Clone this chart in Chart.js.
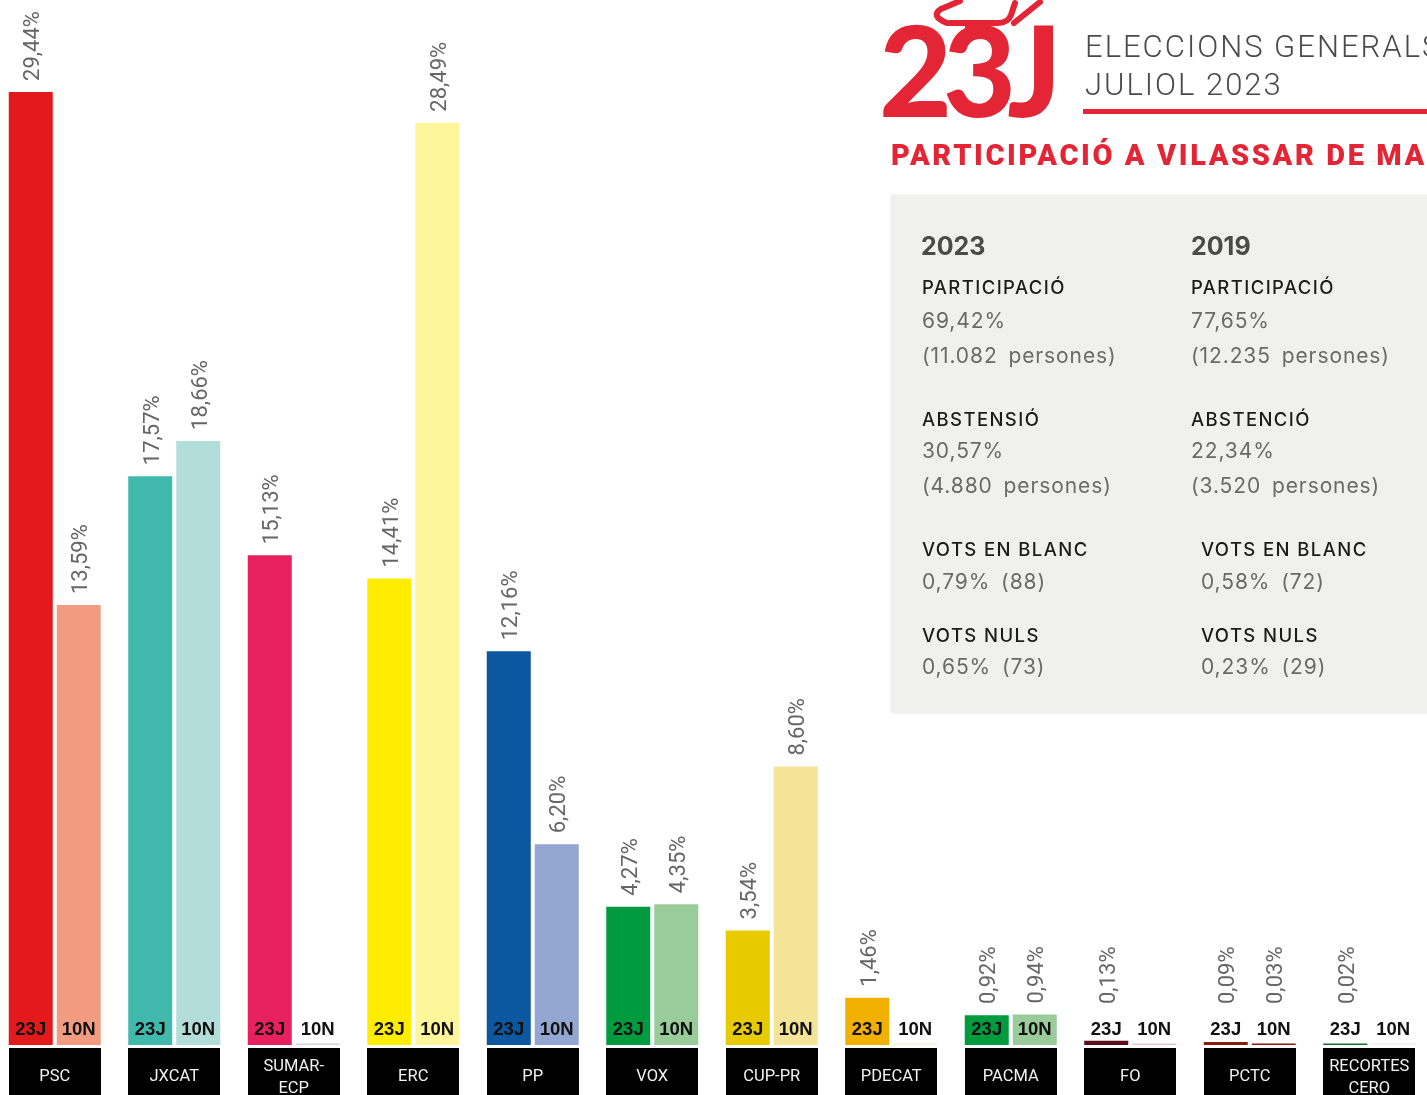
<!DOCTYPE html>
<html><head><meta charset="utf-8">
<script src="https://cdn.jsdelivr.net/npm/chart.js@4.4.0/dist/chart.umd.min.js"></script>
<style>
html,body{margin:0;padding:0;background:#fff;}
body{width:1427px;height:1095px;overflow:hidden;position:relative;font-family:Inter, Roboto, sans-serif;}
#wrap{position:absolute;left:-5px;top:0;width:1434px;height:1095px;}
.t{position:absolute;white-space:nowrap;line-height:30px;height:30px;}
.hd{font-family:Roboto, sans-serif;font-weight:300;font-size:31px;color:#4a4a4a;letter-spacing:2px;}
.sub{font-family:Roboto, sans-serif;font-weight:900;font-size:29px;color:#E42535;letter-spacing:2.6px;}
#panel{position:absolute;left:891px;top:195px;width:560px;height:518px;background:#f0f0ef;box-shadow:0 0 2px rgba(0,0,0,0.12);}
.yr{font-weight:700;font-size:25px;color:#4a4a4a;}
.lb{font-weight:500;font-size:18.5px;color:#1c1c1c;letter-spacing:1.4px;}
.vl{font-weight:400;font-size:21px;color:#6a6a6a;letter-spacing:0.9px;word-spacing:4px;}
</style></head>
<body>
<div id="wrap"><canvas id="c"></canvas></div>

<svg style="position:absolute;left:0;top:0" width="1427" height="130">
  <g fill="none" stroke="#E42535" stroke-width="6" stroke-linecap="round" stroke-linejoin="round">
    <path d="M947,23 Q930,16 941,9 L960,1"/>
    <path d="M950,23 L998,23 Q1008,23 1011,15 L1015,3"/>
    <path d="M1014,23 L1040,2"/>
    <path d="M968,23 L968,28"/>
  </g>
  <text x="879" y="117" font-family="Lato, sans-serif" font-weight="900" font-size="126" letter-spacing="-9" fill="#E42535">23J</text>
</svg>

<div class="t hd" style="left:1085px;top:32px;">ELECCIONS GENERALS</div>
<div class="t hd" style="left:1085px;top:70px;">JULIOL 2023</div>
<div style="position:absolute;left:1083px;top:109px;width:400px;height:5px;background:#E42535;"></div>
<div class="t sub" style="left:891px;top:140px;">PARTICIPACIÓ A VILASSAR DE MAR</div>

<div id="panel"></div>
<div class="t yr" style="left:921px;top:231px;">2023</div>
<div class="t lb" style="left:922px;top:272px;">PARTICIPACIÓ</div>
<div class="t vl" style="left:922px;top:306px;">69,42%</div>
<div class="t vl" style="left:922px;top:341px;">(11.082 persones)</div>
<div class="t lb" style="left:922px;top:404px;">ABSTENSIÓ</div>
<div class="t vl" style="left:922px;top:436px;">30,57%</div>
<div class="t vl" style="left:922px;top:471px;">(4.880 persones)</div>
<div class="t lb" style="left:922px;top:534px;">VOTS EN BLANC</div>
<div class="t vl" style="left:922px;top:567px;">0,79% (88)</div>
<div class="t lb" style="left:922px;top:620px;">VOTS NULS</div>
<div class="t vl" style="left:922px;top:652px;">0,65% (73)</div>

<div class="t yr" style="left:1191px;top:231px;">2019</div>
<div class="t lb" style="left:1191px;top:272px;">PARTICIPACIÓ</div>
<div class="t vl" style="left:1191px;top:306px;">77,65%</div>
<div class="t vl" style="left:1191px;top:341px;">(12.235 persones)</div>
<div class="t lb" style="left:1191px;top:404px;">ABSTENCIÓ</div>
<div class="t vl" style="left:1191px;top:436px;">22,34%</div>
<div class="t vl" style="left:1191px;top:471px;">(3.520 persones)</div>
<div class="t lb" style="left:1201px;top:534px;">VOTS EN BLANC</div>
<div class="t vl" style="left:1201px;top:567px;">0,58% (72)</div>
<div class="t lb" style="left:1201px;top:620px;">VOTS NULS</div>
<div class="t vl" style="left:1201px;top:652px;">0,23% (29)</div>

<script>
const categories = ['PSC', 'JXCAT', ['SUMAR-', 'ECP'], 'ERC', 'PP', 'VOX', 'CUP-PR', 'PDECAT', 'PACMA', 'FO', 'PCTC', ['RECORTES', 'CERO']];
const seriesNames = ['23J', '10N'];
const values23J = [29.44, 17.57, 15.13, 14.41, 12.16, 4.27, 3.54, 1.46, 0.92, 0.13, 0.09, 0.02];
const values10N = [13.59, 18.66, 0, 28.49, 6.20, 4.35, 8.60, 0, 0.94, 0, 0.03, 0];
const colors23J = ['#E3191C', '#41B8AC', '#E7215F', '#FFED00', '#0B57A0', '#009B3F', '#E8CA00', '#F2B100', '#009B3F', '#5B0F18', '#8C1A12', '#1A6B2E'];
const colors10N = ['#F19C80', '#B3DDD8', '#D4D4D4', '#FFF59B', '#93A5D1', '#9ACC9B', '#F4E498', '#FBEFDC', '#9ACC9B', '#E2C5CC', '#8C1A12', '#EEEEEE'];
const yMax = 32.28;

const fmt = v => v.toFixed(2).replace('.', ',') + '%';

const decor = {
  id: 'decor',
  afterDatasetsDraw(chart) {
    const ctx = chart.ctx;
    const area = chart.chartArea;
    const xs = chart.scales.x;
    ctx.save();
    categories.forEach((c, i) => {
      const cx = xs.getPixelForValue(i);
      ctx.fillStyle = '#000';
      ctx.fillRect(Math.round(cx - 46), area.bottom + 3, 92, 60);
      ctx.fillStyle = '#f2f2f2';
      ctx.font = '16.5px Roboto, sans-serif';
      ctx.textAlign = 'center';
      ctx.textBaseline = 'middle';
      const lines = Array.isArray(c) ? c : [c];
      if (lines.length === 1) ctx.fillText(lines[0], cx, area.bottom + 32);
      else { ctx.fillText(lines[0], cx, area.bottom + 22); ctx.fillText(lines[1], cx, area.bottom + 44); }
    });
    chart.data.datasets.forEach((ds, di) => {
      const meta = chart.getDatasetMeta(di);
      meta.data.forEach((bar, i) => {
        const v = ds.data[i];
        ctx.fillStyle = '#111';
        ctx.font = 'bold 18.5px "Liberation Sans", Arial, sans-serif';
        ctx.textAlign = 'center';
        ctx.textBaseline = 'middle';
        ctx.fillText(seriesNames[di], bar.x, area.bottom - 15);
        if (v > 0) {
          const yy = Math.min(bar.y - 11, area.bottom - 41);
          ctx.save();
          ctx.translate(bar.x + 3, yy);
          ctx.rotate(-Math.PI / 2);
          ctx.fillStyle = '#666';
          ctx.font = '22px Roboto, sans-serif';
          ctx.textAlign = 'left';
          ctx.textBaseline = 'middle';
          ctx.fillText(fmt(v), 0, 0);
          ctx.restore();
        }
      });
    });
    ctx.restore();
  }
};

new Chart(document.getElementById('c'), {
  type: 'bar',
  data: {
    labels: categories,
    datasets: [
      { label: seriesNames[0], data: values23J, backgroundColor: colors23J, minBarLength: 1.5 },
      { label: seriesNames[1], data: values10N, backgroundColor: colors10N, minBarLength: 1.5 }
    ]
  },
  options: {
    responsive: true,
    maintainAspectRatio: false,
    animation: false,
    layout: { padding: { top: 0, bottom: 50, left: 0, right: 0 } },
    categoryPercentage: 96 / 119.5,
    barPercentage: 44 / 48,
    plugins: { legend: { display: false }, tooltip: { enabled: false } },
    scales: {
      x: { display: false, grid: { display: false } },
      y: { display: false, min: 0, max: yMax, grid: { display: false } }
    }
  },
  plugins: [decor]
});
</script>
</body></html>
